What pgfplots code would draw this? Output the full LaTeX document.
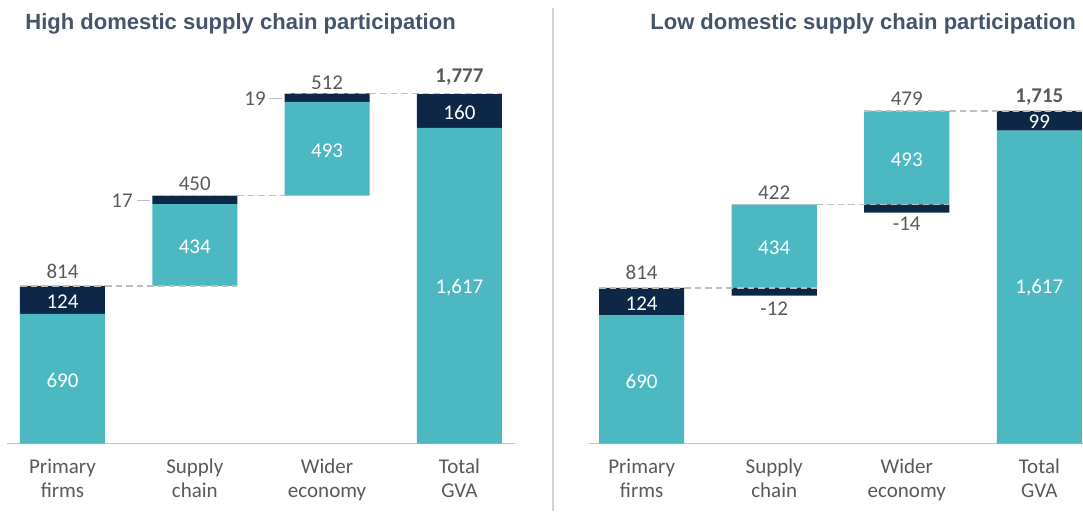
\documentclass[border=0pt]{standalone}
\usepackage{fontspec}
\setmainfont{Carlito}
\newfontfamily\titlefont{Liberation Sans}
\usepackage{pgfplots}
\pgfplotsset{compat=1.18}
\definecolor{tealbar}{RGB}{75,184,194}
\definecolor{navybar}{RGB}{13,40,71}
\definecolor{lblgray}{RGB}{89,89,89}
\definecolor{titlecol}{RGB}{68,84,106}
\definecolor{dashgray}{RGB}{191,191,191}
\definecolor{sepgray}{RGB}{210,210,210}
\pgfplotsset{wf/.style={
  scale only axis, ymin=0, ymax=2000,
  xtick={0,1,2,3},
  xticklabels={Primary\\firms,Supply\\chain,Wider\\economy,Total\\GVA},
  xticklabel style={align=center, text=lblgray, font=\fontsize{10.5}{12}\selectfont, yshift=-4pt},
  major tick length=0pt, ytick=\empty,
  axis x line=bottom, axis y line=none,
  x axis line style={-, draw=dashgray, line width=0.8pt},
  ybar stacked, bar width=0.6425,
  clip=false, anchor=south west,
}}
\tikzset{
num/.style={font=\fontsize{10.5}{12}\selectfont, text=lblgray, inner sep=0pt},
wnum/.style={font=\fontsize{10.5}{12}\selectfont, text=white, inner sep=0pt},
bnum/.style={font=\bfseries\fontsize{10.5}{12}\selectfont, text=lblgray, inner sep=0pt},
conn/.style={draw=dashgray, line width=0.75pt, dash pattern=on 3.3pt off 2pt},
lead/.style={draw=dashgray, line width=0.6pt},
}
\begin{document}
\begin{tikzpicture}
\useasboundingbox (0,0) rectangle (541.5pt,255.5pt);
\node[anchor=base west, inner sep=0pt, text=titlecol, font=\titlefont\bfseries\fontsize{11}{13}\selectfont] at (12.5pt,240.8pt) {High domestic supply chain participation};
\node[anchor=base west, inner sep=0pt, text=titlecol, font=\titlefont\bfseries\fontsize{11}{13}\selectfont] at (325pt,240.8pt) {Low domestic supply chain participation};
\draw[sepgray, line width=1pt] (276.5pt,0) -- (276.5pt,251.5pt);

% Left panel
\begin{axis}[wf, at={(3.45pt,33.75pt)}, width=254.05pt, height=197.2pt, xmin=-0.42, xmax=3.42]
\addplot[draw=none, fill=none] coordinates {(0,0) (1,799) (2,1257) (3,0)};
\addplot[draw=none, fill=tealbar] coordinates {(0,657) (1,415) (2,475) (3,1601)};
\addplot[draw=none, fill=navybar] coordinates {(0,142) (1,43) (2,44) (3,171)};
\coordinate (lc1a) at (axis cs:-0.32,799); \coordinate (lc1b) at (axis cs:1.32,799);
\coordinate (lc2a) at (axis cs:0.68,1257); \coordinate (lc2b) at (axis cs:2.32,1257);
\coordinate (lc3a) at (axis cs:1.68,1776); \coordinate (lc3b) at (axis cs:3.32,1776);
\coordinate (l1) at (axis cs:0,871);
\coordinate (l2) at (axis cs:0,719);
\coordinate (l3) at (axis cs:0,322);
\coordinate (l4) at (axis cs:1,1316);
\coordinate (l5) at (axis cs:1,996);
\coordinate (l6) at (axis cs:0.45,1231);
\coordinate (l6a) at (axis cs:0.563,1231); \coordinate (l6b) at (axis cs:0.661,1231);
\coordinate (l7) at (axis cs:2,1830);
\coordinate (l8) at (axis cs:2,1485);
\coordinate (l9) at (axis cs:1.455,1750);
\coordinate (l9a) at (axis cs:1.561,1750); \coordinate (l9b) at (axis cs:1.659,1750);
\coordinate (l10) at (axis cs:3,1860);
\coordinate (l11) at (axis cs:3,1677);
\coordinate (l12) at (axis cs:3,789);
\end{axis}
\draw[conn] (lc1a) -- (lc1b);
\draw[conn] (lc2a) -- (lc2b);
\draw[conn] (lc3a) -- (lc3b);
\node[num] at (l1) {814};
\node[wnum] at (l2) {124};
\node[wnum] at (l3) {690};
\node[num] at (l4) {450};
\node[wnum] at (l5) {434};
\node[num] at (l6) {17};
\draw[lead] (l6a) -- (l6b);
\node[num] at (l7) {512};
\node[wnum] at (l8) {493};
\node[num] at (l9) {19};
\draw[lead] (l9a) -- (l9b);
\node[bnum] at (l10) {1,777};
\node[wnum] at (l11) {160};
\node[wnum] at (l12) {1,617};

% Right panel
\begin{axis}[wf, at={(294.3pt,33.75pt)}, width=247.25pt, height=192pt, xmin=-0.4, xmax=3.33]
\addplot[draw=none, fill=none] coordinates {(0,0) (1,770) (2,1202) (3,0)};
\addplot[draw=none, fill=navybar] coordinates {(0,0) (1,41) (2,44) (3,0)};
\addplot[draw=none, fill=tealbar] coordinates {(0,669) (1,435) (2,486) (3,1629)};
\addplot[draw=none, fill=navybar] coordinates {(0,142) (1,0) (2,0) (3,103)};
\coordinate (rc1a) at (axis cs:-0.32,811); \coordinate (rc1b) at (axis cs:1.32,811);
\coordinate (rc2a) at (axis cs:0.68,1246); \coordinate (rc2b) at (axis cs:2.32,1246);
\coordinate (rc3a) at (axis cs:1.68,1732); \coordinate (rc3b) at (axis cs:3.32,1732);
\coordinate (r1) at (axis cs:0,890);
\coordinate (r2) at (axis cs:0,730);
\coordinate (r3) at (axis cs:0,325);
\coordinate (r4) at (axis cs:1,1306);
\coordinate (r5) at (axis cs:1,1017);
\coordinate (r6) at (axis cs:1,704);
\coordinate (r7) at (axis cs:2,1798);
\coordinate (r8) at (axis cs:2,1480);
\coordinate (r9) at (axis cs:2,1147);
\coordinate (r10) at (axis cs:3,1806);
\coordinate (r11) at (axis cs:3,1674);
\coordinate (r12) at (axis cs:3,810);
\end{axis}
\draw[conn] (rc1a) -- (rc1b);
\draw[conn] (rc2a) -- (rc2b);
\draw[conn] (rc3a) -- (rc3b);
\node[num] at (r1) {814};
\node[wnum] at (r2) {124};
\node[wnum] at (r3) {690};
\node[num] at (r4) {422};
\node[wnum] at (r5) {434};
\node[num] at (r6) {-12};
\node[num] at (r7) {479};
\node[wnum] at (r8) {493};
\node[num] at (r9) {-14};
\node[bnum] at (r10) {1,715};
\node[wnum] at (r11) {99};
\node[wnum] at (r12) {1,617};
\end{tikzpicture}
\end{document}
